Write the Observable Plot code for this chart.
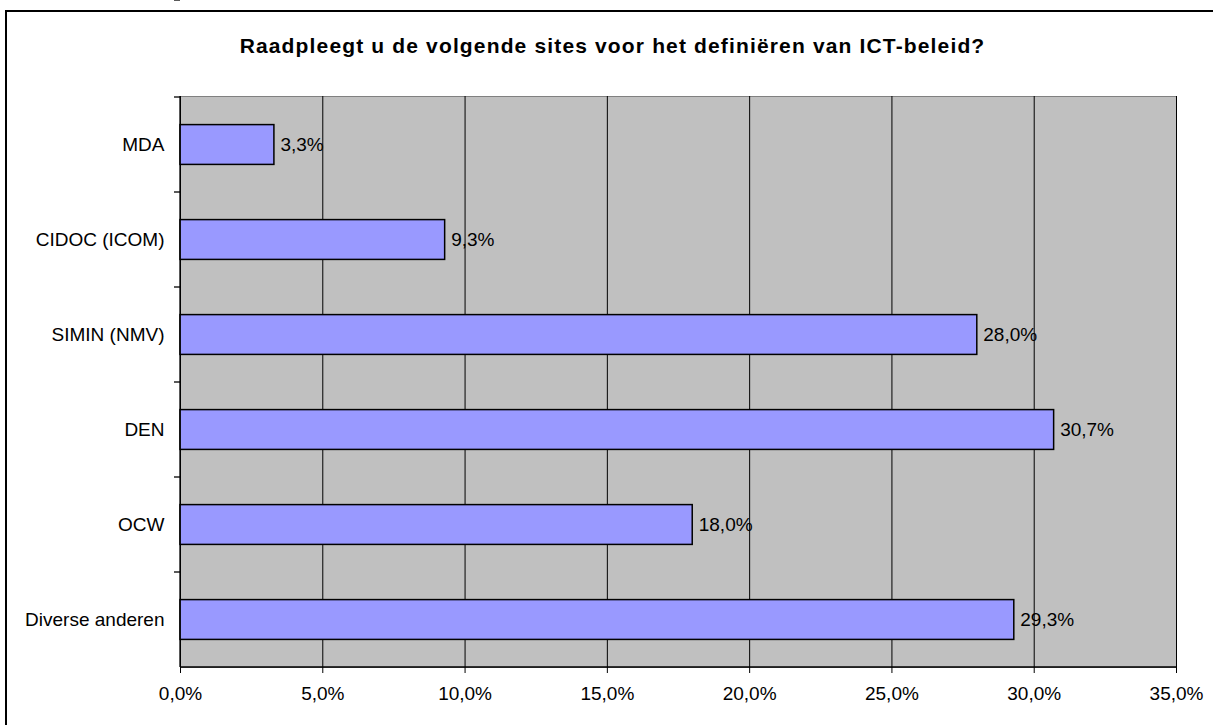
<!DOCTYPE html>
<html>
<head>
<meta charset="utf-8">
<script src="https://cdn.jsdelivr.net/npm/d3@7"></script>
<script src="https://cdn.jsdelivr.net/npm/@observablehq/plot@0.6"></script>
<style>
  html, body { margin: 0; padding: 0; background: #fff; }
  #wrap { position: relative; width: 1213px; height: 725px; overflow: hidden; font-family: "Liberation Sans", Arial, sans-serif; }
  #border { position: absolute; left: 5px; top: 10px; width: 1240px; height: 740px; border: 2px solid #000; box-sizing: border-box; }
  #title { position: absolute; left: 0; width: 1225px; top: 34px; text-align: center; font-weight: bold; font-size: 21px; letter-spacing: 1.15px; color: #000; white-space: nowrap; }
  #chart { position: absolute; left: 0; top: 0; }
</style>
</head>
<body>
<div id="wrap">
  <div id="border"></div>
  <div id="title">Raadpleegt u de volgende sites voor het definiëren van ICT-beleid?</div>
  <div id="chart"></div>
</div>
<script>
const categories = ["MDA", "CIDOC (ICOM)", "SIMIN (NMV)", "DEN", "OCW", "Diverse anderen"];
const values = [3.3, 9.3, 28.0, 30.7, 18.0, 29.3];
const xTicks = [0, 5, 10, 15, 20, 25, 30, 35];

const data = categories.map((c, i) => ({site: c, pct: values[i]}));
const fmt = d => d.toFixed(1).replace(".", ",") + "%";

const boundaries = (index, scales, vals, dims) => {
  const g = d3.create("svg:g").attr("stroke", "#000").attr("stroke-width", 1.3);
  const x0 = dims.marginLeft;
  const yTop = dims.marginTop;
  const yBot = dims.height - dims.marginBottom;
  const bw = scales.y.bandwidth ? scales.y.bandwidth : (yBot - yTop) / categories.length;
  const ys = categories.map(c => scales.y(c));
  ys.push(ys[ys.length - 1] + bw);
  ys.forEach(y => g.append("line").attr("x1", x0 - 6).attr("x2", x0).attr("y1", y).attr("y2", y));
  g.append("line").attr("x1", x0).attr("x2", x0).attr("y1", yTop).attr("y2", yBot);
  g.append("line").attr("x1", x0).attr("x2", dims.width - dims.marginRight).attr("y1", yBot).attr("y2", yBot);
  return g.node();
};

const chart = Plot.plot({
  width: 1213,
  height: 725,
  marginLeft: 180,
  marginRight: 37,
  marginTop: 96,
  marginBottom: 58,
  style: {fontFamily: "'Liberation Sans', Arial, sans-serif", fontSize: "19px", color: "#000", background: "transparent"},
  x: {domain: [0, 35], ticks: xTicks, tickFormat: fmt},
  y: {domain: categories, padding: 0},
  marks: [
    Plot.frame({fill: "#C0C0C0", stroke: "#808080"}),
    Plot.gridX(xTicks, {stroke: "#000", strokeOpacity: 1, strokeWidth: 1}),
    Plot.barX(data, {x: "pct", y: "site", fill: "#9999FF", stroke: "#000", strokeWidth: 1.5, insetTop: 27.6, insetBottom: 27.6}),
    Plot.text(data, {x: "pct", y: "site", text: d => fmt(d.pct), textAnchor: "start", dx: 6, fill: "#000"}),
    Plot.axisX({ticks: xTicks, tickSize: 6, tickPadding: 13, tickFormat: fmt, label: null}),
    Plot.axisY({tickSize: 0, tickPadding: 16, label: null}),
    boundaries
  ]
});
document.getElementById("chart").appendChild(chart);
</script>
</body>
</html>
